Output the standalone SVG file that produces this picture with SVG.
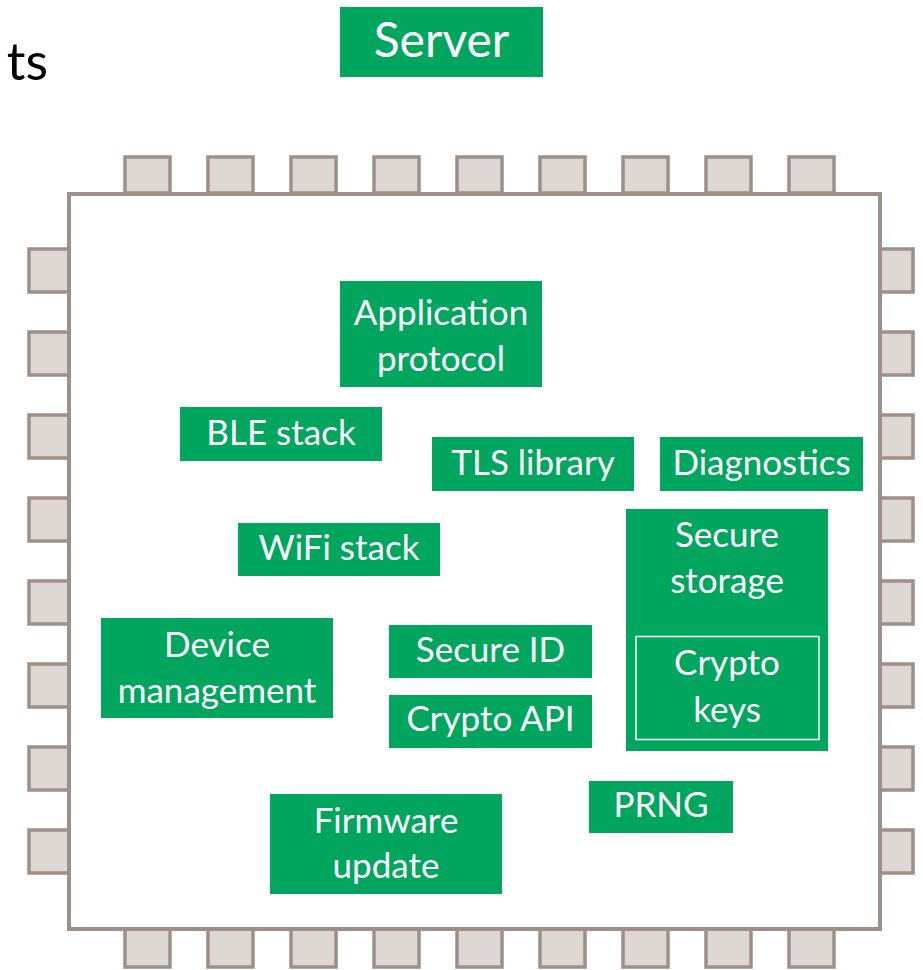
<svg xmlns="http://www.w3.org/2000/svg" width="923" height="970" viewBox="0 0 923 970">
<style>
.pin{fill:#ddd8d4;stroke:#9e9086;stroke-width:3.5}
.chip{fill:#ffffff;stroke:#9e9086;stroke-width:4}
.box{fill:#00a65e}
.inner{fill:none;stroke:#ffffff;stroke-width:1.5}
.t{font-family:Lato,"Liberation Sans",sans-serif;font-size:35px;fill:#ffffff;text-anchor:middle}
.title{font-family:Lato,"Liberation Sans",sans-serif;font-size:52px;fill:#000000;text-anchor:end}
</style>
<rect width="923" height="970" fill="#ffffff"/>
<text class="title" x="48" y="80">ts</text>
<g id="server"><rect class="box" x="340" y="7" width="203" height="70"/><text class="t" x="441.5" y="57" style="font-size:48px">Server</text></g>
<g id="chip">
<g id="pins-top">
<rect class="pin" x="125" y="157" width="45" height="36"/>
<rect class="pin" x="208" y="157" width="45" height="36"/>
<rect class="pin" x="291" y="157" width="45" height="36"/>
<rect class="pin" x="374" y="157" width="45" height="36"/>
<rect class="pin" x="457" y="157" width="45" height="36"/>
<rect class="pin" x="540" y="157" width="45" height="36"/>
<rect class="pin" x="623" y="157" width="45" height="36"/>
<rect class="pin" x="706" y="157" width="45" height="36"/>
<rect class="pin" x="789" y="157" width="45" height="36"/>
</g>
<g id="pins-bottom">
<rect class="pin" x="125" y="929" width="45" height="38"/>
<rect class="pin" x="208" y="929" width="45" height="38"/>
<rect class="pin" x="291" y="929" width="45" height="38"/>
<rect class="pin" x="374" y="929" width="45" height="38"/>
<rect class="pin" x="457" y="929" width="45" height="38"/>
<rect class="pin" x="540" y="929" width="45" height="38"/>
<rect class="pin" x="623" y="929" width="45" height="38"/>
<rect class="pin" x="706" y="929" width="45" height="38"/>
<rect class="pin" x="789" y="929" width="45" height="38"/>
</g>
<g id="pins-left">
<rect class="pin" x="29" y="249" width="40" height="43"/>
<rect class="pin" x="29" y="332" width="40" height="43"/>
<rect class="pin" x="29" y="415" width="40" height="43"/>
<rect class="pin" x="29" y="498" width="40" height="43"/>
<rect class="pin" x="29" y="581" width="40" height="43"/>
<rect class="pin" x="29" y="664" width="40" height="43"/>
<rect class="pin" x="29" y="747" width="40" height="43"/>
<rect class="pin" x="29" y="830" width="40" height="43"/>
</g>
<g id="pins-right">
<rect class="pin" x="880" y="249" width="33" height="43"/>
<rect class="pin" x="880" y="332" width="33" height="43"/>
<rect class="pin" x="880" y="415" width="33" height="43"/>
<rect class="pin" x="880" y="498" width="33" height="43"/>
<rect class="pin" x="880" y="581" width="33" height="43"/>
<rect class="pin" x="880" y="664" width="33" height="43"/>
<rect class="pin" x="880" y="747" width="33" height="43"/>
<rect class="pin" x="880" y="830" width="33" height="43"/>
</g>
<rect class="chip" x="69" y="194" width="811" height="735"/>
</g>
<g id="connectors"></g>
<g id="app-protocol"><rect class="box" x="340" y="281" width="202" height="106"/><text class="t" x="441" y="325">Application</text><text class="t" x="441" y="371">protocol</text></g>
<g id="ble-stack"><rect class="box" x="180" y="407" width="202" height="54"/><text class="t" x="281" y="445">BLE stack</text></g>
<g id="tls-library"><rect class="box" x="432" y="437" width="202" height="54"/><text class="t" x="533" y="475">TLS library</text></g>
<g id="diagnostics"><rect class="box" x="660" y="437" width="203" height="54"/><text class="t" x="761.5" y="475">Diagnostics</text></g>
<g id="wifi-stack"><rect class="box" x="238" y="523" width="202" height="53"/><text class="t" x="339" y="560">WiFi stack</text></g>
<g id="secure-storage"><rect class="box" x="626" y="509" width="202" height="242"/><text class="t" x="727" y="547">Secure</text><text class="t" x="727" y="593">storage</text>
<g id="crypto-keys"><rect class="inner" x="636" y="636.5" width="183" height="103"/><text class="t" x="727" y="675">Crypto</text><text class="t" x="727" y="722">keys</text></g></g>
<g id="device-management"><rect class="box" x="101" y="618" width="232" height="100"/><text class="t" x="217" y="657">Device</text><text class="t" x="217" y="703">management</text></g>
<g id="secure-id"><rect class="box" x="389" y="625" width="203" height="53"/><text class="t" x="490.5" y="662">Secure ID</text></g>
<g id="crypto-api"><rect class="box" x="389" y="695" width="203" height="53"/><text class="t" x="490.5" y="731">Crypto API</text></g>
<g id="prng"><rect class="box" x="589" y="781" width="144" height="52"/><text class="t" x="661" y="817">PRNG</text></g>
<g id="firmware-update"><rect class="box" x="270" y="794" width="232" height="100"/><text class="t" x="386" y="833">Firmware</text><text class="t" x="386" y="878">update</text></g>
</svg>
